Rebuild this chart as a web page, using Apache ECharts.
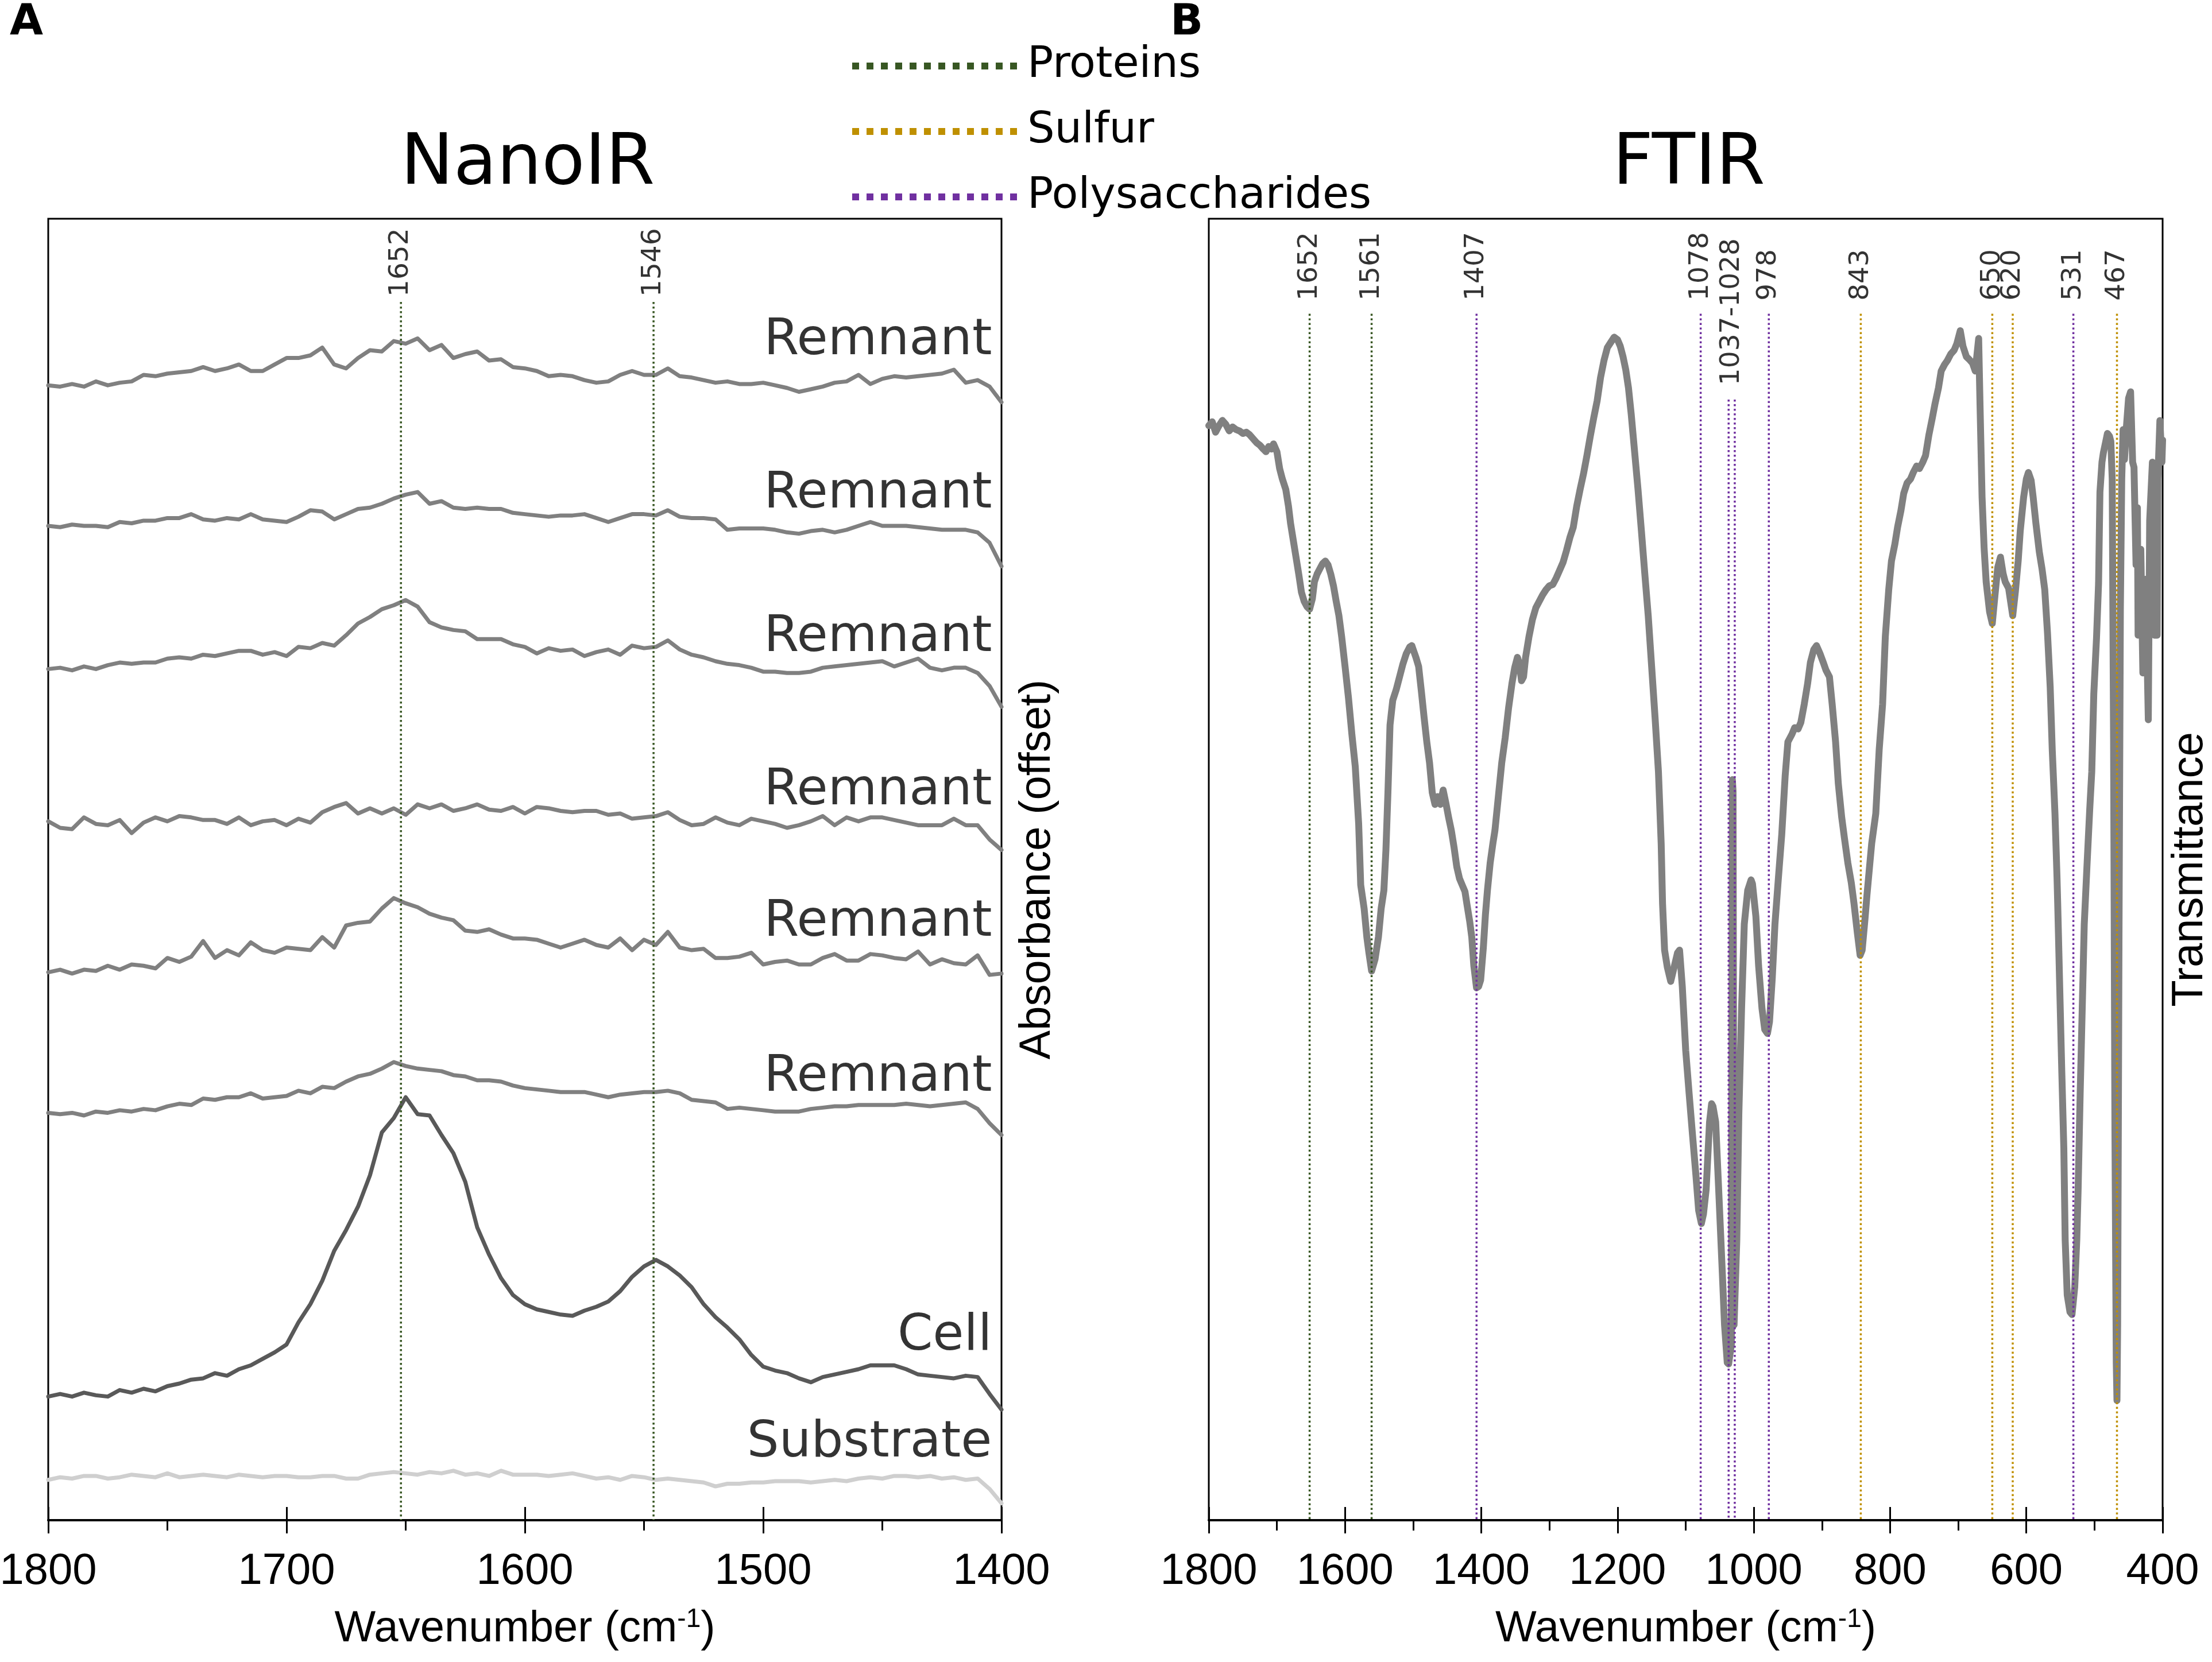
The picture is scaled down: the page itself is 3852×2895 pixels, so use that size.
<!DOCTYPE html>
<html><head><meta charset="utf-8">
<script src="https://cdn.jsdelivr.net/npm/echarts@6/dist/echarts.min.js"></script>
<style>html,body{margin:0;padding:0;background:#fff}#c{width:3852px;height:2895px}</style>
</head><body><div id="c"></div>
<script>
// ---------- DATA ----------
const nanoWavenumber = [
1800,1795,1790,1785,1780,1775,1770,1765,1760,1755,
1750,1745,1740,1735,1730,1725,1720,1715,1710,1705,
1700,1695,1690,1685,1680,1675,1670,1665,1660,1655,
1650,1645,1640,1635,1630,1625,1620,1615,1610,1605,
1600,1595,1590,1585,1580,1575,1570,1565,1560,1555,
1550,1545,1540,1535,1530,1525,1520,1515,1510,1505,
1500,1495,1490,1485,1480,1475,1470,1465,1460,1455,
1450,1445,1440,1435,1430,1425,1420,1415,1410,1405,
1400];
const remnant1 = [
87.2,87.1,87.3,87.1,87.5,87.2,87.4,87.5,88.0,87.9,
88.1,88.2,88.3,88.6,88.3,88.5,88.8,88.3,88.3,88.8,
89.3,89.3,89.5,90.1,88.8,88.5,89.3,89.9,89.8,90.6,
90.4,90.8,89.9,90.3,89.3,89.6,89.8,89.1,89.2,88.6,
88.5,88.3,87.9,88.0,87.9,87.6,87.4,87.5,88.0,88.3,
88.0,88.0,88.5,87.9,87.8,87.6,87.4,87.5,87.3,87.3,
87.4,87.2,87.0,86.7,86.9,87.1,87.4,87.5,88.0,87.3,
87.7,87.9,87.8,87.9,88.0,88.1,88.4,87.4,87.6,87.1,
85.9];
const remnant2 = [
76.4,76.3,76.5,76.4,76.4,76.3,76.7,76.6,76.8,76.8,
77.0,77.0,77.3,76.9,76.8,77.0,76.9,77.3,76.9,76.8,
76.7,77.1,77.6,77.5,76.9,77.3,77.7,77.8,78.1,78.5,
78.8,79.0,78.1,78.3,77.8,77.7,77.8,77.7,77.7,77.4,
77.3,77.2,77.1,77.2,77.2,77.3,77.0,76.7,77.0,77.3,
77.3,77.2,77.6,77.1,77.0,77.0,76.9,76.1,76.2,76.2,
76.2,76.1,75.9,75.8,76.0,76.1,75.9,76.1,76.4,76.7,
76.4,76.4,76.4,76.3,76.2,76.1,76.1,76.1,75.9,75.1,
73.3];
const remnant3 = [
65.4,65.5,65.3,65.6,65.4,65.7,65.9,65.8,65.9,65.9,
66.2,66.3,66.2,66.5,66.4,66.6,66.8,66.8,66.5,66.7,
66.4,67.1,67.0,67.4,67.2,68.0,68.9,69.4,70.0,70.3,
70.7,70.2,69.0,68.6,68.4,68.3,67.7,67.7,67.7,67.3,
67.1,66.6,67.0,66.8,66.9,66.4,66.7,66.9,66.5,67.2,
67.0,67.1,67.6,66.9,66.5,66.3,66.0,65.8,65.7,65.5,
65.2,65.2,65.1,65.1,65.2,65.5,65.6,65.7,65.8,65.9,
66.0,65.6,65.9,66.2,65.5,65.3,65.5,65.5,65.1,64.1,
62.5];
const remnant4 = [
53.7,53.2,53.1,54.0,53.5,53.4,53.8,52.8,53.6,54.0,
53.7,54.1,54.0,53.8,53.8,53.5,54.0,53.4,53.7,53.8,
53.4,53.9,53.6,54.4,54.8,55.1,54.3,54.7,54.3,54.7,
54.2,55.0,54.7,55.0,54.5,54.7,55.0,54.6,54.5,54.8,
54.3,54.8,54.7,54.5,54.4,54.5,54.5,54.2,54.3,53.9,
54.0,54.1,54.4,53.8,53.4,53.5,54.0,53.6,53.4,53.9,
53.7,53.5,53.2,53.4,53.7,54.1,53.4,54.0,53.7,54.0,
54.0,53.8,53.6,53.4,53.4,53.4,53.9,53.4,53.4,52.3,
51.5];
const remnant5 = [
42.1,42.3,42.0,42.3,42.2,42.6,42.3,42.7,42.6,42.4,
43.2,42.9,43.3,44.5,43.2,43.8,43.4,44.4,43.8,43.6,
44.0,43.9,43.8,44.8,44.0,45.7,45.9,46.0,47.0,47.8,
47.4,47.1,46.6,46.3,46.1,45.3,45.2,45.4,45.0,44.7,
44.7,44.6,44.3,44.0,44.3,44.6,44.2,44.0,44.7,43.8,
44.6,44.2,45.2,44.0,43.8,43.9,43.2,43.2,43.3,43.6,
42.7,42.9,43.0,42.7,42.7,43.2,43.5,43.0,43.0,43.5,
43.4,43.2,43.1,43.7,42.7,43.1,42.8,42.7,43.4,41.9,
42.0];
const remnant6 = [
31.3,31.2,31.3,31.1,31.4,31.3,31.5,31.4,31.6,31.5,
31.8,32.0,31.9,32.4,32.3,32.5,32.5,32.8,32.4,32.5,
32.6,33.0,32.8,33.3,33.2,33.7,34.1,34.3,34.7,35.2,
34.9,34.7,34.6,34.5,34.2,34.1,33.8,33.8,33.7,33.4,
33.2,33.1,33.0,32.9,32.9,32.9,32.7,32.5,32.7,32.8,
32.9,32.9,33.0,32.8,32.3,32.2,32.1,31.6,31.7,31.6,
31.5,31.4,31.4,31.4,31.6,31.7,31.8,31.8,31.9,31.9,
31.9,31.9,32.0,31.9,31.8,31.9,32.0,32.1,31.6,30.5,
29.6];
const cell = [
9.5,9.7,9.5,9.8,9.6,9.5,10.0,9.8,10.1,9.9,
10.3,10.5,10.8,10.9,11.3,11.1,11.6,11.9,12.4,12.9,
13.5,15.2,16.6,18.4,20.7,22.3,24.1,26.5,29.8,30.9,
32.5,31.2,31.1,29.6,28.2,26.0,22.5,20.4,18.6,17.3,
16.6,16.2,16.0,15.8,15.7,16.1,16.4,16.8,17.6,18.7,
19.5,20.0,19.5,18.8,17.9,16.6,15.6,14.8,13.9,12.7,
11.8,11.5,11.3,10.9,10.6,11.0,11.2,11.4,11.6,11.9,
11.9,11.9,11.6,11.2,11.1,11.0,10.9,11.1,11.0,9.7,
8.5];
const substrate = [
3.1,3.3,3.2,3.4,3.4,3.2,3.3,3.5,3.4,3.3,
3.6,3.3,3.4,3.5,3.4,3.3,3.5,3.4,3.3,3.4,
3.4,3.3,3.3,3.4,3.4,3.2,3.2,3.5,3.6,3.7,
3.6,3.5,3.7,3.6,3.8,3.5,3.6,3.4,3.8,3.5,
3.5,3.5,3.4,3.5,3.6,3.4,3.2,3.3,3.1,3.4,
3.3,3.1,3.2,3.1,3.0,2.9,2.6,2.8,2.8,2.9,
2.9,3.0,3.0,3.0,2.9,3.0,3.1,3.0,3.2,3.3,
3.2,3.4,3.4,3.3,3.4,3.2,3.3,3.1,3.2,2.4,
1.3];
const nanoCurveNames = ['Remnant','Remnant','Remnant','Remnant','Remnant','Remnant','Cell','Substrate'];

// FTIR spectrum: [wavenumber, transmittance]
const ftirSpectrum = [
[1800,84.1],[1795,84.4],[1790,83.6],[1785,84.1],[1780,84.5],[1775,84.2],[1770,83.7],[1765,84.0],[1760,83.8],[1755,83.7],
[1750,83.5],[1745,83.6],[1740,83.4],[1735,83.1],[1730,82.8],[1725,82.6],[1720,82.3],[1716,82.1],[1712,82.5],[1708,82.3],
[1705,82.7],[1700,82.1],[1696,80.8],[1692,80.0],[1687,79.2],[1683,77.9],[1680,76.6],[1676,75.3],[1672,74.0],[1668,72.7],
[1664,71.3],[1660,70.6],[1656,70.2],[1652,70.0],[1648,70.8],[1645,72.1],[1641,72.7],[1637,73.1],[1633,73.5],[1629,73.7],
[1625,73.4],[1621,72.7],[1617,71.8],[1613,70.6],[1609,69.5],[1605,67.9],[1600,65.6],[1595,63.2],[1590,60.4],[1585,57.9],
[1580,53.5],[1577,48.8],[1572,47.0],[1568,44.8],[1565,43.6],[1561,42.2],[1556,43.1],[1551,44.8],[1547,47.0],[1543,48.4],
[1540,51.5],[1537,56.0],[1534,61.1],[1530,63.0],[1525,63.8],[1520,64.8],[1515,65.8],[1510,66.6],[1505,67.1],[1502,67.2],
[1500,66.9],[1496,66.3],[1492,65.6],[1488,63.7],[1484,61.7],[1480,59.8],[1476,58.2],[1472,55.9],[1468,55.0],[1464,55.6],
[1460,55.0],[1456,56.1],[1452,55.1],[1448,54.0],[1444,53.0],[1440,51.7],[1436,50.2],[1432,49.3],[1428,48.8],[1424,48.3],
[1421,47.3],[1417,46.0],[1414,44.8],[1411,42.6],[1407,40.9],[1404,41.0],[1401,41.5],[1397,44.0],[1394,46.5],[1391,48.4],
[1387,50.5],[1383,52.0],[1380,53.0],[1375,55.6],[1370,58.2],[1365,60.1],[1360,62.4],[1355,64.3],[1351,65.5],[1347,66.3],
[1344,65.8],[1341,64.5],[1338,64.8],[1335,66.3],[1330,67.9],[1325,69.2],[1320,70.1],[1315,70.6],[1310,71.1],[1305,71.5],
[1300,71.8],[1295,71.9],[1290,72.4],[1285,73.0],[1280,73.6],[1275,74.5],[1270,75.5],[1265,76.3],[1260,77.9],[1255,79.2],
[1250,80.4],[1245,81.8],[1240,83.3],[1235,84.7],[1230,86.0],[1225,87.8],[1220,89.1],[1215,90.1],[1210,90.5],[1205,90.9],
[1200,90.7],[1196,90.2],[1192,89.4],[1188,88.4],[1184,87.0],[1180,85.0],[1175,82.1],[1170,79.2],[1165,76.0],[1160,72.7],
[1155,69.5],[1150,65.6],[1145,61.7],[1140,57.5],[1136,52.0],[1134,47.4],[1131,43.8],[1127,42.5],[1122,41.4],[1117,42.5],
[1112,43.6],[1109,43.8],[1105,41.0],[1100,36.1],[1095,32.8],[1090,29.6],[1085,26.5],[1081,23.8],[1077,22.8],[1074,23.5],
[1070,25.4],[1065,30.6],[1062,32.0],[1060,31.8],[1056,30.6],[1051,24.7],[1047,19.9],[1043,15.0],[1039,12.1],[1037,12.0],
[1033,13.5],[1031.5,56.9],[1030.5,56.0],[1029,15.0],[1028,15.0],[1025,21.5],[1022,31.2],[1018,39.3],[1014,45.8],[1009,48.4],
[1004,49.2],[1002,48.9],[997,46.4],[993,42.6],[988,39.3],[984,37.7],[980,37.4],[977,38.3],[973,41.6],[969,45.8],
[964,49.3],[959,52.7],[954,57.2],[950,59.8],[944,60.4],[940,60.9],[935,60.8],[931,61.3],[926,62.7],[921,64.3],
[917,65.9],[912,66.9],[908,67.2],[903,66.6],[898,65.9],[894,65.3],[889,64.8],[885,62.7],[880,59.8],[876,56.6],
[871,54.0],[867,52.4],[862,50.5],[857,49.0],[853,47.4],[848,45.1],[844,43.4],[841,43.8],[837,46.1],[834,48.0],
[830,50.3],[827,52.0],[821,54.3],[816,59.2],[811,62.7],[807,67.9],[802,71.5],[798,73.7],[793,75.0],[789,76.3],
[784,77.6],[780,78.9],[775,79.7],[770,80.0],[766,80.5],[761,81.0],[757,80.8],[752,81.3],[748,81.8],[743,83.4],
[738,84.7],[734,85.8],[729,87.0],[725,88.3],[720,88.8],[716,89.1],[711,89.6],[706,89.9],[702,90.4],[697,91.4],
[693,90.2],[688,89.4],[684,89.2],[679,88.9],[675,88.3],[670,90.8],[668,85.7],[665,78.6],[662,74.7],[659,72.1],
[654,69.8],[650,68.9],[646,71.1],[642,73.2],[638,74.0],[634,72.7],[631,72.1],[626,71.6],[622,70.2],[620,69.5],
[616,71.4],[612,73.7],[609,76.0],[604,78.6],[600,80.0],[597,80.5],[593,79.9],[590,78.6],[586,76.6],[581,74.4],
[577,73.1],[573,71.5],[569,68.2],[565,64.0],[562,59.2],[558,54.3],[555,49.4],[554,47.4],[551,40.9],[548,34.5],
[545,28.6],[543,21.5],[540,17.3],[536,16.0],[533,15.8],[529,17.9],[526,21.5],[524,25.4],[521,32.8],[518,39.3],
[515,45.8],[511,50.3],[507,54.6],[504,57.5],[501,63.5],[497,67.8],[494,72.0],[492,79.0],[489,81.3],[487,82.0],
[483,83.0],[481,83.5],[478,83.3],[476,82.9],[474,80.0],[472,60.0],[470,30.0],[468,12.0],[467,9.2],[466,15.0],
[464,45.0],[462,70.0],[460,80.0],[458,83.8],[456,81.5],[453,84.1],[450,86.2],[447,86.7],[444,81.3],[442,80.9],
[439,73.4],[437,77.8],[436,68.0],[432,74.6],[429,65.1],[425,72.3],[421,61.5],[419,76.8],[415,81.3],[412,68.0],
[408,68.0],[407,80.0],[404,84.5],[401,81.3],[400,83.0]];

const nanoPeaks = [1652, 1546];
const nanoPeakGroups = ['Proteins', 'Proteins'];
const ftirPeaks = [1652, 1561, 1407, 1078, 1037, 1028, 978, 843, 650, 620, 531, 467];
const ftirPeakGroups = ['Proteins','Proteins','Polysaccharides','Polysaccharides','Polysaccharides','Polysaccharides','Polysaccharides','Sulfur','Sulfur','Sulfur','Polysaccharides','Sulfur'];
const ftirPeakLabelText = ['1652','1561','1407','1078','1037-1028','978','843','650','620','531','467'];
const ftirPeakLabelAt = [1652, 1561, 1407, 1078, 1032.5, 978, 843, 650, 620, 531, 467];
const groups = ['Proteins', 'Sulfur', 'Polysaccharides'];

// ---------- STYLE ----------
const groupColors = { Proteins: '#385723', Sulfur: '#BF9000', Polysaccharides: '#7030A0' };
const nanoColors = ['#808080','#808080','#808080','#808080','#808080','#808080','#595959','#cfcfcf'];
const curveLabelY = [90.6, 78.8, 67.8, 56.0, 45.9, 34.0, 14.1, 5.9];
const SANS = 'DejaVu Sans';
const ARIAL = 'Liberation Sans';

const nanoSeriesValues = [remnant1, remnant2, remnant3, remnant4, remnant5, remnant6, cell, substrate];

const series = [];
nanoSeriesValues.forEach((vals, i) => {
  series.push({
    type: 'line', xAxisIndex: 0, yAxisIndex: 0, symbol: 'none', silent: true,
    data: nanoWavenumber.map((w, k) => [w, vals[k]]),
    lineStyle: { color: nanoColors[i], width: 7, join: 'round', cap: 'round' },
    itemStyle: { color: nanoColors[i] }, z: 2
  });
});
series.push({
  type: 'line', xAxisIndex: 2, yAxisIndex: 1, symbol: 'none', silent: true,
  data: ftirSpectrum,
  lineStyle: { color: '#808080', width: 12, join: 'round', cap: 'round' },
  itemStyle: { color: '#808080' }, z: 2
});
// peak marker lines
const dotStyle = (g) => ({ color: groupColors[g], width: 3.5, type: [3.5, 4.5] });
nanoPeaks.forEach((w, i) => {
  const g = nanoPeakGroups[i];
  series.push({ type: 'line', name: g, xAxisIndex: 0, yAxisIndex: 0, symbol: 'none', silent: true,
    data: [[w, 93.6], [w, 0]], lineStyle: dotStyle(g), itemStyle: { color: groupColors[g] }, z: 5 });
});
ftirPeaks.forEach((w, i) => {
  const g = ftirPeakGroups[i];
  const top = (w === 1037 || w === 1028) ? 86.1 : 92.7;
  series.push({ type: 'line', name: g, xAxisIndex: 2, yAxisIndex: 1, symbol: 'none', silent: true,
    data: [[w, top], [w, 0]], lineStyle: dotStyle(g), itemStyle: { color: groupColors[g] }, z: 5 });
});
// peak labels
const peakLabel = { show: true, position: 'inside', rotate: 90, align: 'left', verticalAlign: 'middle',
  fontSize: 47, fontFamily: SANS, color: '#000', formatter: '{b}' };
series.push({ type: 'scatter', xAxisIndex: 0, yAxisIndex: 0, symbolSize: 0, silent: true,
  data: nanoPeaks.map(w => ({ name: String(w), value: [w, 94.0] })), label: peakLabel, z: 6 });
series.push({ type: 'scatter', xAxisIndex: 2, yAxisIndex: 1, symbolSize: 0, silent: true,
  data: ftirPeakLabelText.map((t, i) => ({ name: t, value: [ftirPeakLabelAt[i], t.length > 4 ? 87.2 : 93.7] })),
  label: peakLabel, z: 6 });
// curve names
series.push({ type: 'scatter', xAxisIndex: 0, yAxisIndex: 0, symbolSize: 0, silent: true,
  data: nanoCurveNames.map((t, i) => ({ name: t, value: [1404, curveLabelY[i]] })),
  label: { show: true, position: 'left', distance: 0, formatter: '{b}', fontSize: 88, fontFamily: SANS, color: '#000' }, z: 6 });

function xAxisMain(grid, min, max, interval, name) {
  return {
    gridIndex: grid, type: 'value', min: min, max: max, interval: interval, inverse: true, position: 'bottom',
    axisLine: { show: true, onZero: false, lineStyle: { color: '#000', width: 4 } },
    axisTick: { show: true, inside: false, length: 23, lineStyle: { color: '#000', width: 3 } },
    minorTick: { show: true, splitNumber: 2, length: 18, lineStyle: { color: '#000', width: 3 } },
    splitLine: { show: false }, minorSplitLine: { show: false },
    axisLabel: { show: true, margin: 52, fontSize: 76, fontFamily: ARIAL, color: '#000', showMinLabel: true, showMaxLabel: true,
      formatter: (v) => String(v) },
    name: name, nameLocation: 'middle', nameGap: 150,
    nameTextStyle: { fontSize: 76, fontFamily: ARIAL, color: '#000', lineHeight: 80,
      rich: { sup: { fontSize: 46, fontFamily: ARIAL, color: '#000', verticalAlign: 'top', lineHeight: 80 } } }
  };
}
function xAxisInner(grid, min, max, interval) {
  return {
    gridIndex: grid, type: 'value', min: min, max: max, interval: interval, inverse: true, position: 'bottom',
    axisLine: { show: false, onZero: false }, axisLabel: { show: false },
    axisTick: { show: true, inside: true, length: 23, lineStyle: { color: '#000', width: 3 } },
    splitLine: { show: false }
  };
}
function yAxisR(grid, name, gap) {
  return {
    gridIndex: grid, type: 'value', min: 0, max: 100, position: 'right',
    axisLine: { show: false }, axisTick: { show: false }, axisLabel: { show: false }, splitLine: { show: false },
    name: name, nameLocation: 'middle', nameRotate: 90, nameGap: gap,
    nameTextStyle: { fontSize: 76, fontFamily: ARIAL, color: '#000' }
  };
}

const option = {
  animation: false,
  backgroundColor: '#fff',
  title: [
    { text: 'A', left: 12, top: -2, textStyle: { fontSize: 75, fontWeight: 'bold', fontFamily: SANS, color: '#000' } },
    { text: 'B', left: 2033, top: -2, textStyle: { fontSize: 75, fontWeight: 'bold', fontFamily: SANS, color: '#000' } },
    { text: 'NanoIR', left: 914, textAlign: 'center', top: 222, textStyle: { fontSize: 123, fontWeight: 'normal', fontFamily: SANS, color: '#000' } },
    { text: 'FTIR', left: 2936, textAlign: 'center', top: 222, textStyle: { fontSize: 123, fontWeight: 'normal', fontFamily: SANS, color: '#000' } }
  ],
  legend: {
    data: groups, orient: 'vertical', left: 1473, top: 70, itemWidth: 300, itemHeight: 14, itemGap: 34,
    selectedMode: false,
    textStyle: { fontSize: 75, fontFamily: SANS, color: '#000', lineHeight: 80, padding: [0, 0, 0, 0] },
    lineStyle: { width: 12, type: [12, 13], cap: 'butt' },
    itemStyle: { color: 'transparent', borderWidth: 0, opacity: 0 }
  },
  grid: [
    { left: 84, top: 381, width: 1660, height: 2267, show: true, borderColor: '#000', borderWidth: 3, backgroundColor: 'transparent', containLabel: false, outerBoundsMode: 'none' },
    { left: 2105, top: 381, width: 1661, height: 2267, show: true, borderColor: '#000', borderWidth: 3, backgroundColor: 'transparent', containLabel: false, outerBoundsMode: 'none' }
  ],
  xAxis: [
    xAxisMain(0, 1400, 1800, 100, 'Wavenumber (cm{sup|-1})'),
    xAxisInner(0, 1400, 1800, 100),
    xAxisMain(1, 400, 1800, 200, 'Wavenumber (cm{sup|-1})'),
    xAxisInner(1, 400, 1800, 200)
  ],
  yAxis: [ yAxisR(0, 'Absorbance (offset)', 25), yAxisR(1, 'Transmittance', 10) ],
  series: series
};
const chart = echarts.init(document.getElementById('c'), null, { renderer: 'canvas', width: 3852, height: 2895 });
chart.setOption(option);
</script></body></html>
